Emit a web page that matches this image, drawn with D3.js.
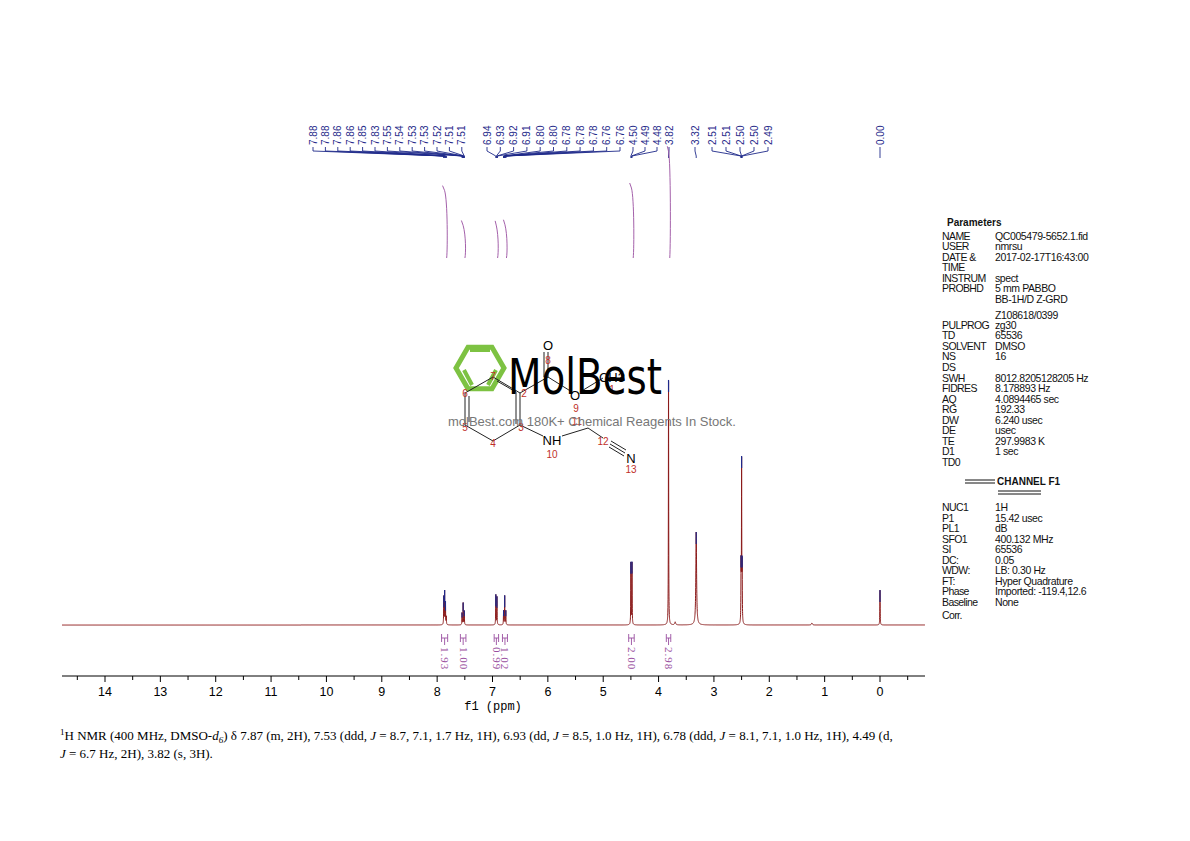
<!DOCTYPE html>
<html><head><meta charset="utf-8">
<script src="https://cdn.jsdelivr.net/npm/d3@7"></script>
<style>body{margin:0;background:#fff}svg{display:block}</style>
</head><body>
<svg id="c" width="1190" height="841"></svg>
<script>
// ---------- data ----------
const peakPpm    = [7.88,7.865,7.85,7.835, 7.55,7.53,7.51, 6.94,6.92, 6.80,6.78,6.76, 4.50,4.48, 3.82, 3.32, 2.51,2.50,2.49, 0.00, 1.23, 3.70];
const peakHeight = [28,33,22,8, 12,22,14, 30,28, 14,29,14, 62,62, 245, 93, 55,160,55, 35, 2, 3];
const peakWidth  = [0.003,0.003,0.003,0.003, 0.003,0.003,0.003, 0.003,0.003, 0.003,0.003,0.003, 0.003,0.003, 0.003, 0.008, 0.003,0.003,0.003, 0.003, 0.01, 0.01];
const peakLabelGroups = [
  ["7.88","7.88","7.86","7.86","7.85","7.83","7.55","7.54","7.53","7.53","7.52","7.51","7.51"],
  ["6.94","6.93","6.92","6.91","6.80","6.80","6.78","6.78","6.78","6.76","6.76"],
  ["4.50","4.49","4.48"],["3.82"],["3.32"],["2.51","2.51","2.50","2.50","2.49"],["0.00"]];
const integralFrom = [7.92,7.58,6.97,6.82,4.54,3.86];
const integralTo   = [7.81,7.48,6.89,6.73,4.44,3.78];
const integralVal  = [1.93,1.00,0.99,1.02,2.00,2.98];
const ticks = [14,13,12,11,10,9,8,7,6,5,4,3,2,1,0];
const paramRows = [
 ["NAME","QC005479-5652.1.fid"],["USER","nmrsu"],["DATE &","2017-02-17T16:43:00"],["TIME",""],
 ["INSTRUM","spect"],["PROBHD","5 mm PABBO"],["","BB-1H/D Z-GRD"],["","Z108618/0399"],
 ["PULPROG","zg30"],["TD","65536"],["SOLVENT","DMSO"],["NS","16"],["DS",""],
 ["SWH","8012.8205128205 Hz"],["FIDRES","8.178893 Hz"],["AQ","4.0894465 sec"],["RG","192.33"],
 ["DW","6.240 usec"],["DE","usec"],["TE","297.9983 K"],["D1","1 sec"],["TD0",""]];
const channelRows = [["NUC1","1H"],["P1","15.42 usec"],["PL1","dB"],["SFO1","400.132 MHz"],["SI","65536"],
 ["DC:","0.05"],["WDW:","LB: 0.30 Hz"],["FT:","Hyper Quadrature"],["Phase","Imported: -119.4,12.6"],["Baseline","None"],["Corr.",""]];

// ---------- drawing ----------
const svg = d3.select("#c");
const x = d3.scaleLinear().domain([14,0]).range([105,880]);
const y = d3.scaleLinear().domain([0,245]).range([625,380]);
const red = "#8b1a1a", blue = "#1f2a8a", purple = "#9a4fa0";

const pts = [];
for (let p = x.invert(62); p >= x.invert(925); p -= 0.001) {
  let s = 0;
  for (let i=0;i<peakPpm.length;i++){ const d=(p-peakPpm[i])/peakWidth[i]; s += peakHeight[i]/(1+d*d); }
  pts.push([p,s]);
}
svg.append("path").attr("d", d3.line().x(d=>x(d[0])).y(d=>y(d[1]))(pts))
  .attr("fill","none").attr("stroke",red).attr("stroke-width",1);
peakPpm.forEach((p,i)=>{ if(peakHeight[i]<10) return;
  let s=0; for(let j=0;j<peakPpm.length;j++){const d=(p-peakPpm[j])/peakWidth[j]; s+=peakHeight[j]/(1+d*d);}
  svg.append("line").attr("x1",x(p)).attr("x2",x(p)).attr("y1",y(s)).attr("y2",y(s)+Math.min(12,(625-y(s))*0.4))
   .attr("stroke",blue).attr("stroke-width",1.2);
});

const ax = svg.append("g").attr("transform","translate(0,676)");
ax.append("line").attr("x1",62).attr("x2",925).attr("stroke","#000");
const minor = d3.range(-0.5,14.8,0.5);
ax.selectAll(".mt").data(minor).join("line").attr("x1",d=>x(d)).attr("x2",d=>x(d)).attr("y1",0).attr("y2",d=>Number.isInteger(d)?6:4).attr("stroke","#000");
ax.selectAll(".tl").data(ticks).join("text").attr("x",d=>x(d)).attr("y",20).attr("text-anchor","middle")
  .attr("font-family","Liberation Sans").attr("font-size",12.5).text(d=>d);
svg.append("text").attr("x",493).attr("y",710).attr("text-anchor","middle").attr("font-family","Liberation Mono").attr("font-size",12).text("f1 (ppm)");

const groupStart = [313,487,633,669,695,712,880], groupStep=[12.4,13.3,12,0,0,14,0];
peakLabelGroups.forEach((g,gi)=>{
  g.forEach((t,i)=>{
    const lx = groupStart[gi]+i*groupStep[gi], px = x(+t);
    svg.append("text").attr("transform",`translate(${lx+3.5},145) rotate(-90)`).attr("font-family","Liberation Sans Narrow, Liberation Sans")
      .attr("font-size",10).attr("fill",blue).text(t);
    svg.append("path").attr("d",`M${lx},147V151L${px},156V158`).attr("fill","none").attr("stroke",blue).attr("stroke-width",0.9);
  });
});

integralVal.forEach((v,i)=>{
  const x1=x(integralFrom[i]), x2=x(integralTo[i]);
  const top = 258 - v*37.5;
  svg.append("path").attr("d",`M${x2-1},258 C${x2},${258-v*5} ${x2},${top+15} ${(x1+x2)/2},${top+5} L${x1+1},${top}`)
    .attr("fill","none").attr("stroke",purple).attr("stroke-width",0.9);
  const cx=(x1+x2)/2;
  svg.append("path").attr("d",`M${x1},634V642M${x2},634V642M${x1},638H${x2}M${cx},638V645`).attr("stroke",purple).attr("fill","none").attr("stroke-width",0.9);
  svg.append("text").attr("transform",`translate(${cx-3.5},647) rotate(90)`).attr("font-family","Liberation Serif")
    .attr("font-size",11).attr("letter-spacing",1).attr("fill",purple).text(v.toFixed(2));
});

const wm = svg.append("g");
const hex = d3.range(6).map(k=>[480+24*Math.cos(Math.PI/3*k), 368+24*Math.sin(Math.PI/3*k)]);
wm.append("polygon").attr("points",hex.join(" ")).attr("fill","none").attr("stroke","#7dc242").attr("stroke-width",5);
wm.append("path").attr("d","M470,350H490M464,370L472,385M496,370L488,385").attr("stroke","#7dc242").attr("stroke-width",4);
const bonds = [[493,377,520,393],[520,393,520,425],[520,425,493,441],[493,441,465,425],[465,425,465,393],[465,393,493,377],
 [497,381,516,392],[516,392,516,424],[469,396,469,422],[520,393,548,377],[548,377,548,352],[544,377,544,352],[548,377,572,392],
 [580,392,603,378],[520,425,543,436],[562,436,588,428],[588,428,603,438],[610,444,625,453],[611,441,626,450],[609,447,624,456]];
bonds.forEach(b=>wm.append("line").attr("x1",b[0]).attr("y1",b[1]).attr("x2",b[2]).attr("y2",b[3]).attr("stroke","#222").attr("stroke-width",1));
[["O",548,350],["O",575,400],["CH3",612,382],["NH",552,445],["N",631,463]].forEach(a=>
  wm.append("text").attr("x",a[1]).attr("y",a[2]).attr("text-anchor","middle").attr("font-family","Liberation Sans").attr("font-size",13).text(a[0]));
[["8",548,364],["7",493,380],["2",524,397],["6",465,397],["5",465,431],["4",493,447],["3",521,431],["9",576,412],["11",577,425],["10",552,458],["12",603,445],["13",631,473],["1",612,393]].forEach(a=>
  wm.append("text").attr("x",a[1]).attr("y",a[2]).attr("text-anchor","middle").attr("font-family","Liberation Sans").attr("font-size",10).attr("fill","#c0302a").text(a[0]));
wm.append("text").attr("x",508).attr("y",394).attr("font-family","DejaVu Sans Condensed, DejaVu Sans").attr("font-size",50).attr("textLength",154).attr("lengthAdjust","spacingAndGlyphs").attr("fill","#000").text("MolBest");
wm.append("text").attr("x",448).attr("y",426).attr("font-family","Liberation Sans").attr("font-size",13).attr("fill","#777").text("molBest.com 180K+ Chemical Reagents In Stock.");

const pg = svg.append("g").attr("font-family","Liberation Sans").attr("font-size",10.5).attr("fill","#111");
pg.append("text").attr("x",947).attr("y",226).attr("font-weight","bold").attr("font-size",10).text("Parameters");
const rowY = [240,250,261,271,282,292,303,319,329,339,350,360,371,382,392,403,413,424,434,445,455,466];
paramRows.forEach((r,i)=>{
  pg.append("text").attr("x",942).attr("y",rowY[i]).attr("letter-spacing",-0.6).text(r[0]);
  pg.append("text").attr("x",995).attr("y",rowY[i]).attr("letter-spacing",-0.4).text(r[1]);
});
pg.append("line").attr("x1",965).attr("x2",995).attr("y1",480).attr("y2",480).attr("stroke","#111").attr("stroke-width",1);
pg.append("line").attr("x1",965).attr("x2",995).attr("y1",483).attr("y2",483).attr("stroke","#111").attr("stroke-width",1);
pg.append("text").attr("x",997).attr("y",485).attr("font-weight","bold").attr("font-size",10).text("CHANNEL F1");
pg.append("line").attr("x1",998).attr("x2",1041).attr("y1",491).attr("y2",491).attr("stroke","#111").attr("stroke-width",1);
pg.append("line").attr("x1",998).attr("x2",1041).attr("y1",494).attr("y2",494).attr("stroke","#111").attr("stroke-width",1);
channelRows.forEach((r,i)=>{
  const yy = 511 + i*10.5 + (i==10?3:0);
  pg.append("text").attr("x",942).attr("y",yy).attr("letter-spacing",-0.6).text(r[0]);
  pg.append("text").attr("x",995).attr("y",yy).attr("letter-spacing",-0.4).text(r[1]);
});

const dt = svg.append("g").attr("font-family","Liberation Serif").attr("font-size",13).attr("fill","#000");
const t1 = dt.append("text").attr("x",60).attr("y",740);
t1.append("tspan").attr("font-size",9).attr("dy",-5).text("1");
t1.append("tspan").attr("dy",5).text("H NMR (400 MHz, DMSO-");
t1.append("tspan").attr("font-style","italic").text("d");
t1.append("tspan").attr("font-size",9).attr("dy",3).attr("font-style","italic").text("6");
t1.append("tspan").attr("dy",-3).text(") δ 7.87 (m, 2H), 7.53 (ddd, ");
t1.append("tspan").attr("font-style","italic").text("J");
t1.append("tspan").text(" = 8.7, 7.1, 1.7 Hz, 1H), 6.93 (dd, ");
t1.append("tspan").attr("font-style","italic").text("J");
t1.append("tspan").text(" = 8.5, 1.0 Hz, 1H), 6.78 (ddd, ");
t1.append("tspan").attr("font-style","italic").text("J");
t1.append("tspan").text(" = 8.1, 7.1, 1.0 Hz, 1H), 4.49 (d,");
const t2 = dt.append("text").attr("x",60).attr("y",758);
t2.append("tspan").attr("font-style","italic").text("J");
t2.append("tspan").text(" = 6.7 Hz, 2H), 3.82 (s, 3H).");
</script>
</body></html>
